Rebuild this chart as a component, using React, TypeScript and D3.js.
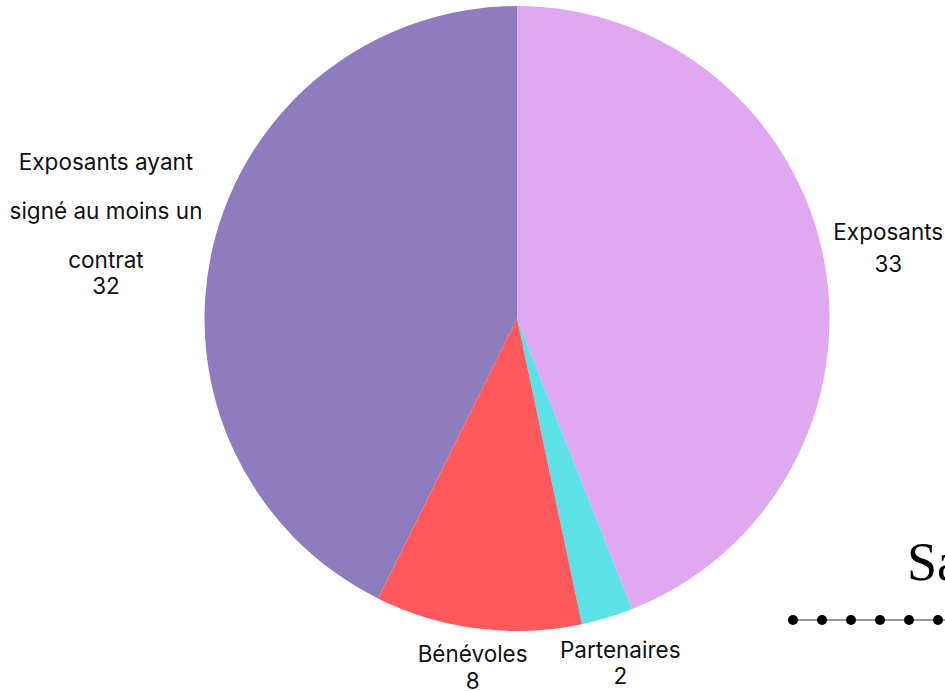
import React from "react";
import * as d3 from "d3";

const categories = ["Exposants", "Partenaires", "Bénévoles", "Exposants ayant signé au moins un contrat"];
const values = [33, 2, 8, 32];
const colors = ["#E0A8F0", "#5CE1E6", "#FF595E", "#8F7CBE"];
const labelLines = [["Exposants"], ["Partenaires"], ["Bénévoles"], ["Exposants ayant", "signé au moins un", "contrat"]];
const titleText = "Sa";
const dotCount = 6;

const W = 945;
const H = 691;
const cx = 517;
const cy = 318.5;
const R = 312.5;
const labelR = 378;
const FONT = "Inter, 'Noto Sans', sans-serif";
const FS = 22.5;

export default function App() {
  const data = categories.map((c, i) => ({ c, v: values[i], i }));
  const pie = d3.pie<any>().value((d) => d.v).sort(null);
  const arcs = pie(data);
  const arc = d3.arc<any>().innerRadius(0).outerRadius(R);
  const labelArc = d3.arc<any>().innerRadius(labelR).outerRadius(labelR);

  const dotX = d3.scaleLinear().domain([0, dotCount - 1]).range([793, 938]);

  return (
    <svg width={W} height={H} style={{ position: "absolute", left: 0, top: 0, overflow: "hidden" }}>
      <rect width={W} height={H} fill="#ffffff" />
      <g transform={`translate(${cx},${cy})`}>
        {arcs.map((a, i) => (
          <path key={i} d={arc(a) as string} fill={colors[i]} />
        ))}
      </g>
      {arcs.map((a, i) => {
        let [x, y] = labelArc.centroid(a);
        x += cx;
        y += cy;
        const lines = labelLines[i];
        if (lines.length > 1) {
          // wrapped label on left side: keep block inside page
          const wrapW = 196;
          x = Math.min(x, 8 + wrapW / 2);
          const startY = y - 71;
          return (
            <g key={i} fontFamily={FONT} fontSize={FS} fill="#111" textAnchor="middle">
              {lines.map((l, j) => (
                <text key={j} x={x} y={startY + j * 49} dominantBaseline="central">{l}</text>
              ))}
              <text x={x} y={startY + (lines.length - 1) * 49 + 26} dominantBaseline="central">{values[i]}</text>
            </g>
          );
        }
        // bottom labels pushed up to fit in the page
        const maxY = i === 1 ? 662.5 : 667;
        const yy = Math.min(y, maxY);
        const gap = i === 0 ? 32 : 26.5;
        const xx = x - (i === 1 ? 6 : 0) + (i === 2 ? 3 : 0);
        return (
          <g key={i} fontFamily={FONT} fontSize={FS} fill="#111" textAnchor="middle">
            <text x={xx} y={yy - gap / 2} dominantBaseline="central">{lines[0]}</text>
            <text x={xx} y={yy + gap / 2} dominantBaseline="central">{values[i]}</text>
          </g>
        );
      })}
      <text x={907} y={580} fontFamily="'Liberation Serif', 'Times New Roman', serif" fontSize={54} fill="#000">{titleText}</text>
      <line x1={793} x2={W} y1={620} y2={620} stroke="#777" strokeWidth={1.5} />
      {d3.range(dotCount).map((k) => (
        <circle key={k} cx={dotX(k)} cy={620} r={5} fill="#000" />
      ))}
    </svg>
  );
}
